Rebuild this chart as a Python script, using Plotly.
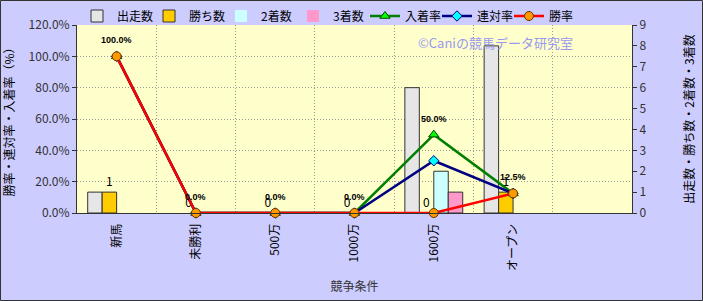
import plotly.graph_objects as go

categories = ["新馬", "未勝利", "500万", "1000万", "1600万", "オープン", " "]
starts = [1, 0, 0, 0, 6, 8]
wins = [1, 0, 0, 0, 0, 1]
seconds = [0, 0, 0, 0, 2, 0]
thirds = [0, 0, 0, 0, 1, 0]
place_rate = [1.0, 0.0, 0.0, 0.0, 0.5, 0.125]
quinella_rate = [1.0, 0.0, 0.0, 0.0, 0.3333, 0.125]
win_rate = [1.0, 0.0, 0.0, 0.0, 0.0, 0.125]

W, H = 703, 301
ML, MR, MT, MB = 77, 71, 25, 88
PW, PH = W - ML - MR, H - MT - MB

font_jp = "Noto Sans CJK JP"
cats = categories[:6]

fig = go.Figure()


def bar_line(vals):
    return dict(color="#333333", width=[1 if v else 0 for v in vals])


fig.add_trace(go.Bar(x=cats, y=starts, name="出走数", marker=dict(color="#e6e6e6", line=bar_line(starts)), yaxis="y"))
fig.add_trace(go.Bar(x=cats, y=wins, name="勝ち数", marker=dict(color="#ffcc00", line=bar_line(wins)), yaxis="y",
                     text=[str(v) for v in wins], textposition="outside", cliponaxis=False,
                     textfont=dict(family=font_jp, size=12, color="#000000")))
fig.add_trace(go.Bar(x=cats, y=seconds, name="2着数", marker=dict(color="#ccffff", line=bar_line(seconds)), yaxis="y"))
fig.add_trace(go.Bar(x=cats, y=thirds, name="3着数", marker=dict(color="#ff99cc", line=bar_line(thirds)), yaxis="y"))

fig.add_trace(go.Scatter(x=cats, y=place_rate, name="入着率", mode="lines+markers", yaxis="y2",
                         line=dict(color="#008000", width=2.5),
                         marker=dict(symbol="triangle-up", size=9, color="#00ff00", line=dict(color="#004000", width=1)),
                         cliponaxis=False))
fig.add_trace(go.Scatter(x=cats, y=quinella_rate, name="連対率", mode="lines+markers", yaxis="y2",
                         line=dict(color="#000080", width=2.5),
                         marker=dict(symbol="diamond", size=8, color="#00ffff", line=dict(color="#000080", width=1)),
                         cliponaxis=False))
fig.add_trace(go.Scatter(x=cats, y=win_rate, name="勝率", mode="lines+markers", yaxis="y2",
                         line=dict(color="#ff0000", width=2.5),
                         marker=dict(symbol="circle", size=9, color="#ff9900", line=dict(color="#663300", width=1)),
                         cliponaxis=False))

rate_labels = [dict(x=c, y=v, xref="x", yref="y2", text=f"{v*100:.1f}%", showarrow=False,
                    yshift=16, xanchor="center", yanchor="middle",
                    font=dict(family="Liberation Sans", size=9, color="#000000", weight="bold"))
               for c, v in zip(cats, place_rate)]

grid_dash = "1px,2px"
fig.update_layout(
    width=W, height=H,
    margin=dict(l=ML, r=MR, t=MT, b=MB, autoexpand=False),
    paper_bgcolor="#ccccff",
    plot_bgcolor="#ffffcc",
    font=dict(family=font_jp, size=12, color="#000000"),
    barmode="group", bargap=0.27, bargroupgap=0,
    showlegend=True,
    legend=dict(orientation="h", x=0.0, xanchor="left", y=1 + (25 - 16) / PH, yanchor="middle",
                bgcolor="rgba(0,0,0,0)", font=dict(size=12, family=font_jp),
                entrywidth=27, entrywidthmode="pixels", traceorder="normal",
                itemwidth=30, tracegroupgap=0),
    xaxis=dict(type="category", categoryorder="array", categoryarray=categories,
               range=[-0.5, 6.5], tickson="boundaries", showgrid=True, automargin=False,
               gridcolor="#999999", griddash=grid_dash, gridwidth=1,
               showline=True, linecolor="#333333", linewidth=1,
               tickangle=-90, ticks="", ticklabelstandoff=5, tickfont=dict(size=12, color="#000000"),
               title=dict(text="競争条件", font=dict(size=12, color="#333333"), standoff=12)),
    yaxis=dict(side="right", range=[0, 9], dtick=1, showgrid=False, zeroline=False, automargin=False,
               showline=True, linecolor="#333333", linewidth=1, ticks="outside", ticklen=4,
               tickcolor="#333333", tickfont=dict(size=12, color="#333333"),
               title=dict(text="出走数・勝ち数・2着数・3着数", font=dict(size=12, color="#000000"), standoff=40)),
    yaxis2=dict(side="left", overlaying="y", range=[0, 1.2], dtick=0.2, tickformat=".1%", automargin=False,
                showgrid=True, gridcolor="#999999", griddash=grid_dash, gridwidth=1, zeroline=False,
                showline=True, linecolor="#333333", linewidth=1, ticks="outside", ticklen=4,
                tickcolor="#333333", tickfont=dict(size=12, color="#333333"),
                title=dict(text="勝率・連対率・入着率（%）", font=dict(size=12, color="#000000"), standoff=12)),
    annotations=[dict(text="©Caniの競馬データ研究室", xref="paper", yref="paper",
                      x=(495 - ML) / PW, y=1 - (43 - MT) / PH, xanchor="center", yanchor="middle",
                      showarrow=False,
                      font=dict(size=13, color="#9999ee", family=font_jp))] + rate_labels,
    shapes=[dict(type="rect", xref="paper", yref="paper",
                 x0=(-ML + 0.5) / PW, x1=1 + (MR - 0.5) / PW,
                 y0=(-MB + 0.5) / PH, y1=1 + (MT - 0.5) / PH,
                 line=dict(color="#333333", width=1), layer="below")],
)

fig.write_html("out.html")
